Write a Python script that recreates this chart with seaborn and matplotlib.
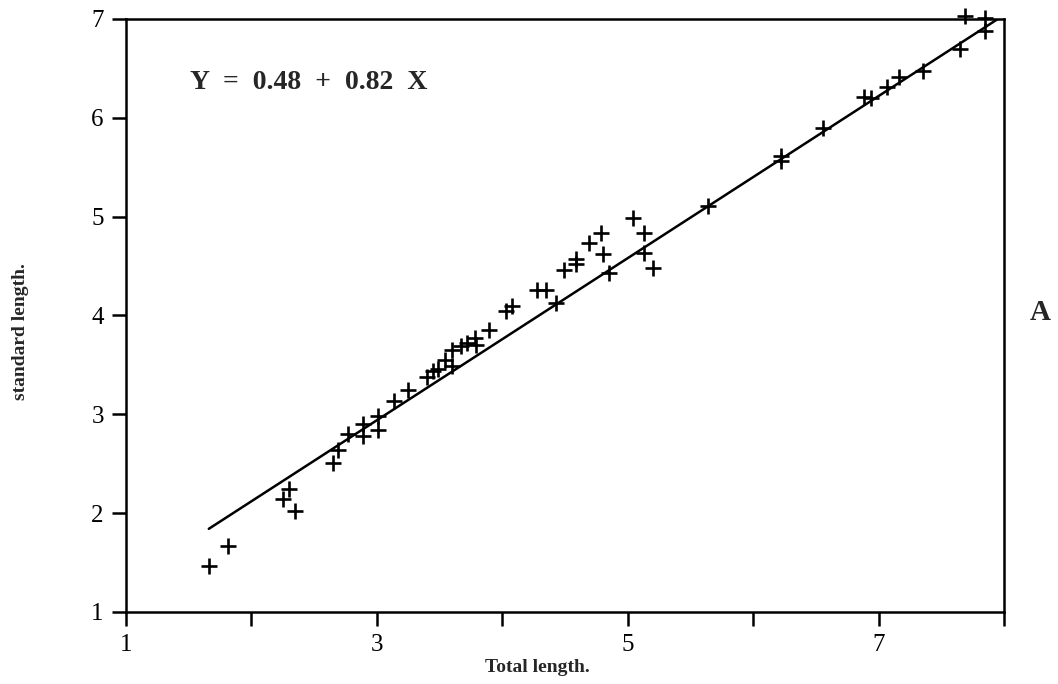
import numpy as np
import pandas as pd
import matplotlib
matplotlib.use('Agg')
import matplotlib.pyplot as plt
import seaborn as sns

# values
total_length = [1.66, 1.81, 2.25, 2.30, 2.35, 2.65, 2.69, 2.77, 2.89, 2.89,
                3.01, 3.01, 3.14, 3.25, 3.40, 3.45, 3.49, 3.54, 3.60, 3.60,
                3.67, 3.72, 3.78, 3.79, 3.89, 4.03, 4.08, 4.28, 4.35, 4.43,
                4.49, 4.59, 4.59, 4.69, 4.79, 4.80, 4.85, 5.04, 5.13, 5.13,
                5.20, 5.64, 6.22, 6.22, 6.56, 6.88, 6.94, 7.07, 7.16, 7.35,
                7.65, 7.69, 7.85, 7.85]
standard_length = [1.47, 1.67, 2.14, 2.24, 2.02, 2.51, 2.64, 2.80, 2.90, 2.78,
                   2.98, 2.84, 3.13, 3.25, 3.38, 3.44, 3.46, 3.55, 3.49, 3.65,
                   3.69, 3.72, 3.77, 3.70, 3.85, 4.05, 4.10, 4.26, 4.26, 4.13,
                   4.46, 4.57, 4.52, 4.73, 4.83, 4.62, 4.43, 4.99, 4.83, 4.63,
                   4.48, 5.11, 5.61, 5.56, 5.90, 6.21, 6.20, 6.31, 6.41, 6.47,
                   6.70, 7.03, 7.01, 6.88]

intercept = 0.48
slope = 0.82
line_end = 8.0

x_ticks = [1, 2, 3, 4, 5, 6, 7, 8]
x_labels = ['1', '', '3', '', '5', '', '7', '']
y_ticks = [1, 2, 3, 4, 5, 6, 7]

df = pd.DataFrame({'total': total_length, 'standard': standard_length})
fit = pd.DataFrame({'total': [min(total_length), line_end]})
fit['standard'] = intercept + slope * fit['total']

sns.set_style('ticks')
plt.rcParams['font.family'] = ['Liberation Serif', 'DejaVu Serif']

fig = plt.figure(figsize=(10.58, 6.84), dpi=100)
ax = fig.add_axes([0.1191, 0.1053, 0.8299, 0.867])

pts = sns.scatterplot(data=df, x='total', y='standard', marker='+', s=120,
                      color='black', linewidth=1.9, ax=ax, zorder=3)
for coll in ax.collections:
    coll.set_clip_on(False)
sns.lineplot(data=fit, x='total', y='standard', color='black', lw=1.8, ax=ax)

ax.set_xlim(1, 8)
ax.set_ylim(1, 7)
ax.set_xticks(x_ticks)
ax.set_xticklabels(x_labels)
ax.set_yticks(y_ticks)
ax.set_xlabel('')
ax.set_ylabel('')

for side in ['left', 'right', 'top', 'bottom']:
    ax.spines[side].set_visible(True)
    ax.spines[side].set_linewidth(1.8)
    ax.spines[side].set_color('black')

ax.tick_params(direction='out', length=10, width=1.8, labelsize=18,
               pad=6, colors='black')

ax.text(0.073, 0.892, 'Y  =  0.48  +  0.82  X', transform=ax.transAxes,
        fontsize=20, fontweight='bold', ha='left', va='center')

fig.text(537 / 1058, 1 - 667 / 684, 'Total length.', fontsize=14,
         fontweight='bold', ha='center', va='center')
fig.text(21 / 1058, 1 - 332 / 684, 'standard length.', fontsize=14,
         fontweight='bold', ha='center', va='center', rotation=90)
fig.text(1040 / 1058, 1 - 313 / 684, 'A', fontsize=21,
         fontweight='bold', ha='center', va='center')

fig.savefig('out.png', dpi=100, facecolor='white')
